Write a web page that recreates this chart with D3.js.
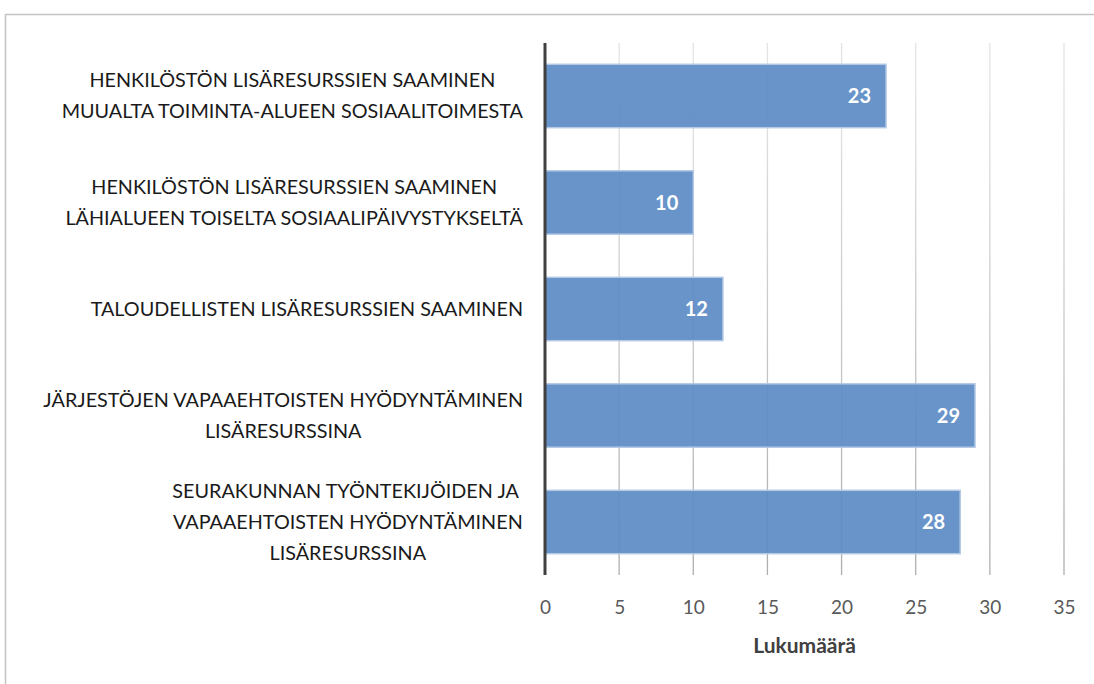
<!DOCTYPE html>
<html>
<head>
<meta charset="utf-8">
<script src="https://cdn.jsdelivr.net/npm/d3@7"></script>
<style>
  body { margin: 0; background: #fff; }
  svg { display: block; }
</style>
</head>
<body>
<div id="chart"></div>
<script>
// categories (each line of a label is its own string), top to bottom
var categories = [
  ["HENKILÖSTÖN LISÄRESURSSIEN SAAMINEN", "MUUALTA TOIMINTA-ALUEEN SOSIAALITOIMESTA"],
  ["HENKILÖSTÖN LISÄRESURSSIEN SAAMINEN", "LÄHIALUEEN TOISELTA SOSIAALIPÄIVYSTYKSELTÄ"],
  ["TALOUDELLISTEN LISÄRESURSSIEN SAAMINEN"],
  ["JÄRJESTÖJEN VAPAAEHTOISTEN HYÖDYNTÄMINEN", "LISÄRESURSSINA"],
  ["SEURAKUNNAN TYÖNTEKIJÖIDEN JA ", "VAPAAEHTOISTEN HYÖDYNTÄMINEN", "LISÄRESURSSINA"]
];
var values = [23, 10, 12, 29, 28];
var xTicks = [0, 5, 10, 15, 20, 25, 30, 35];
var xTitle = "Lukumäärä";

var W = 1094, H = 684;
var margin = {top: 43, left: 545, right: 30, bottom: 109};
var width = W - margin.left - margin.right;
var height = H - margin.top - margin.bottom;
var font = "Lato, 'Open Sans', sans-serif";

var svg = d3.select("#chart").append("svg")
  .attr("width", W).attr("height", H);

// gridlines get darker toward the bottom
var grad = svg.append("defs").append("linearGradient")
  .attr("id", "gridGrad").attr("gradientUnits", "userSpaceOnUse")
  .attr("x1", 0).attr("x2", 0).attr("y1", margin.top).attr("y2", margin.top + height);
grad.append("stop").attr("offset", "0%").attr("stop-color", "#e3e3e3");
grad.append("stop").attr("offset", "100%").attr("stop-color", "#a9a9a9");

// outer frame (only top and left edges are visible)
svg.append("path")
  .attr("d", "M5.5,684 L5.5,14.5 L1094,14.5")
  .attr("fill", "none").attr("stroke", "#c4c4c4").attr("stroke-width", 1.5);

var g = svg.append("g").attr("transform", `translate(${margin.left},${margin.top})`);

var x = d3.scaleLinear().domain([0, 35]).range([0, width]);
var y = d3.scaleBand().domain(d3.range(values.length)).range([0, height])
  .paddingInner(0.405).paddingOuter(0.2);

// gridlines
g.selectAll("line.grid").data(xTicks.slice(1)).enter().append("line")
  .attr("class", "grid")
  .attr("x1", d => x(d)).attr("x2", d => x(d))
  .attr("y1", 0).attr("y2", height)
  .attr("stroke", "url(#gridGrad)").attr("stroke-width", 1.3);

// bars
g.selectAll("rect.bar").data(values).enter().append("rect")
  .attr("class", "bar")
  .attr("x", 0).attr("y", (d, i) => y(i))
  .attr("width", d => x(d)).attr("height", y.bandwidth())
  .attr("fill", "#5b8bc4").attr("fill-opacity", 0.92)
  .attr("stroke", "#b3c8e4").attr("stroke-width", 1.5);

// value labels
g.selectAll("text.val").data(values).enter().append("text")
  .attr("class", "val")
  .attr("x", d => x(d) - 15)
  .attr("y", (d, i) => y(i) + y.bandwidth() / 2)
  .attr("dy", "0.36em")
  .attr("text-anchor", "end")
  .attr("fill", "#fff").attr("font-weight", "bold")
  .attr("font-family", font).attr("font-size", 20)
  .text(d => d);

// vertical axis line
g.append("line")
  .attr("x1", 0).attr("x2", 0).attr("y1", 0).attr("y2", height)
  .attr("stroke", "#404040").attr("stroke-width", 3);

// x axis tick labels
var xAxis = d3.axisBottom(x).tickValues(xTicks).tickSize(0).tickPadding(26);
var xg = g.append("g").attr("transform", `translate(0,${height})`).call(xAxis);
xg.select(".domain").remove();
xg.selectAll("text").attr("fill", "#595959")
  .attr("font-family", font).attr("font-size", 19);

// axis title
g.append("text")
  .attr("x", width / 2).attr("y", height + 78)
  .attr("text-anchor", "middle")
  .attr("fill", "#404040").attr("font-weight", "bold")
  .attr("font-family", font).attr("font-size", 21)
  .text(xTitle);

// category labels: block right aligned near axis, lines centred in the block
var labelRight = -22, lineH = 31;
categories.forEach(function(lines, i) {
  var t = g.append("text")
    .attr("font-family", font).attr("font-size", 19.8)
    .attr("fill", "#1a1a1a").attr("text-anchor", "middle")
    .attr("xml:space", "preserve");
  var spans = lines.map(function(s) {
    return t.append("tspan").text(s);
  });
  var maxW = d3.max(spans, s => s.node().getComputedTextLength());
  var cx = labelRight - maxW / 2;
  var cy = y(i) + y.bandwidth() / 2;
  var y0 = cy - (lines.length - 1) * lineH / 2;
  spans.forEach(function(s, k) {
    s.attr("x", cx).attr("y", y0 + k * lineH).attr("dy", "0.35em");
  });
});
</script>
</body>
</html>
